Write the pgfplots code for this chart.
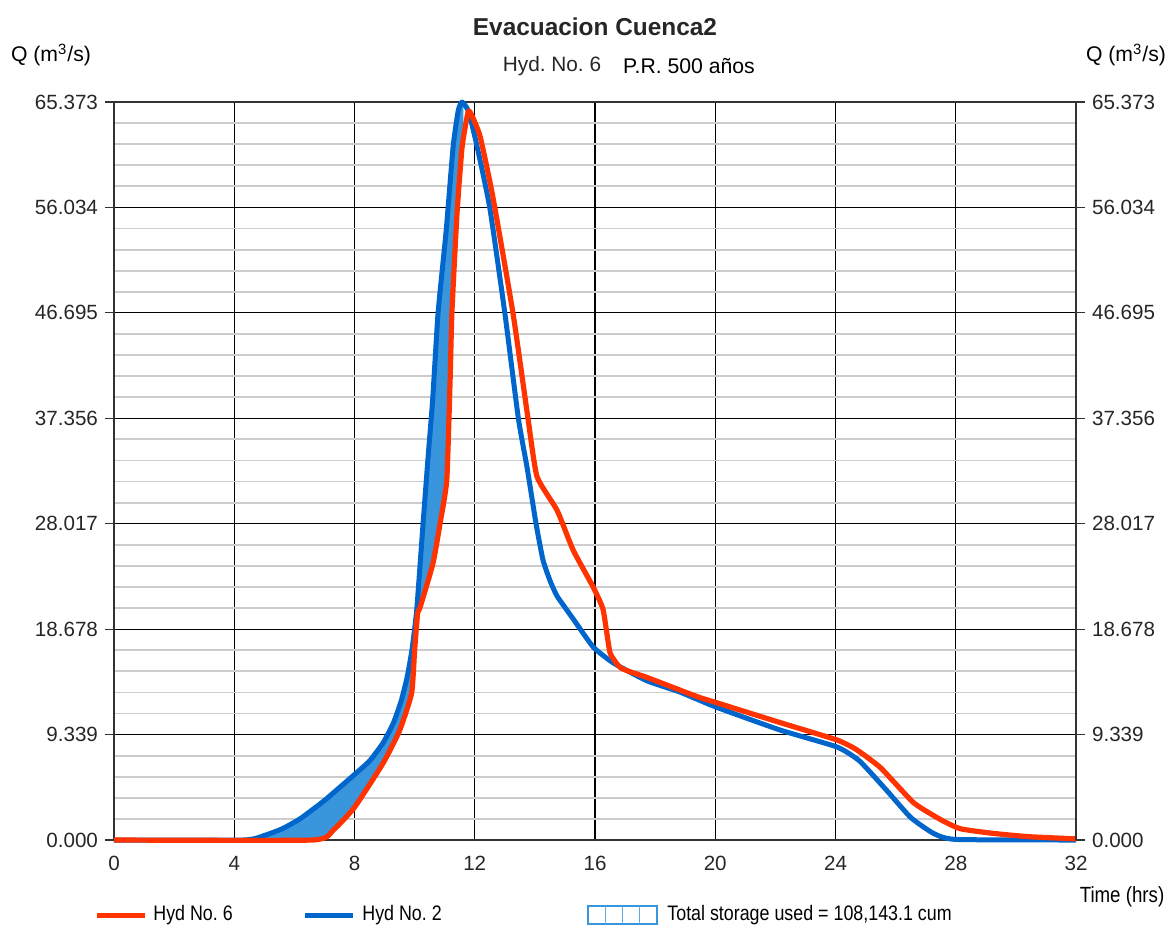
\documentclass[border=0pt]{standalone}
\usepackage{fontspec}
\setmainfont{Liberation Sans}
\newfontfamily\narrowfont{Liberation Sans}[FakeStretch=0.85]
\usepackage{pgfplots}
\usepackage{pgfplotstable}
\pgfplotsset{compat=1.18}
\usepgfplotslibrary{fillbetween}
\frenchspacing

\definecolor{hydred}{RGB}{255,51,0}
\definecolor{hydblue}{RGB}{0,102,204}
\definecolor{storefill}{RGB}{58,150,220}

% Hyd No. 2 (inflow)
\pgfplotstableread{
t q
0 0
4.3 0
5.0 0.4
5.6 1.0
6.2 1.9
7.0 3.5
8.0 5.8
8.5 7.0
8.95 8.6
9.3 10.4
9.55 12.3
9.75 14.4
9.92 17.0
10.07 20.4
10.28 28.0
10.45 34.0
10.6 39.0
10.78 46.7
11.05 54.0
11.28 61.4
11.45 64.6
11.58 65.37
11.8 64.5
12.08 61.4
12.5 56.0
13.0 46.7
13.45 37.36
13.74 33.0
14.04 28.0
14.27 24.8
14.5 23.0
14.74 21.6
15.27 19.6
15.94 17.1
16.6 15.7
17.73 14.1
18.83 13.1
20.0 11.8
22.16 9.74
24.05 8.24
24.8 7.0
25.7 4.4
26.5 2.0
27.25 0.6
28.0 0.05
32.0 0
}\hydtwo

% Hyd No. 6 (outflow)
\pgfplotstableread{
t q
0 0
6.6 0
7.3 0.9
8.0 2.9
8.95 6.8
9.5 9.7
9.9 13.0
10.0 16.8
10.1 20.1
10.18 20.6
10.61 24.5
10.85 28.1
11.07 31.9
11.18 40.7
11.24 46.7
11.41 55.5
11.58 61.4
11.78 64.5
11.9 64.2
12.18 62.3
12.6 57.0
13.27 46.7
13.77 37.36
14.07 32.2
14.74 29.2
15.27 25.7
15.94 22.4
16.27 20.4
16.5 16.6
16.83 15.3
17.17 14.9
17.73 14.4
19.4 12.7
20.0 12.2
22.16 10.4
24.05 8.86
24.7 8.0
25.5 6.4
26.6 3.3
27.5 1.8
28.15 1.0
29.2 0.6
30.4 0.3
32.0 0.1
}\hydsix

\begin{document}
\begin{tikzpicture}
\begin{axis}[
  name=main,
  at={(0,0)}, anchor=south west,
  scale only axis,
  width=481pt, height=369pt,
  xmin=0, xmax=32, ymin=0, ymax=65.373,
  xtick={0,4,...,32},
  ytick={0,9.339,18.678,28.017,37.356,46.695,56.034,65.373},
  yticklabels={0.000,9.339,18.678,28.017,37.356,46.695,56.034,65.373},
  minor y tick num=4,
  xmajorgrids, ymajorgrids, yminorgrids,
  major grid style={black, line width=0.6pt},
  minor grid style={black!20, line width=0.9pt},
  axis line style={black!80, line width=0.8pt},
  tick align=outside,
  ytick pos=left, xtick pos=bottom,
  major tick length=4.5pt, minor tick length=0pt,
  xtick style={draw=none},
  ytick style={black!80, line width=0.6pt},
  ticklabel style={font=\fontsize{10.3}{12}\selectfont, text=black!85},
  /pgf/number format/assume math mode=true,
  clip=false,
]
\addplot[draw=none, smooth, tension=0.3, name path=inflow] table[x=t, y=q] {\hydtwo};
\addplot[draw=none, smooth, tension=0.3, name path=outflow] table[x=t, y=q] {\hydsix};
\addplot[storefill, draw=none] fill between[of=inflow and outflow, soft clip={domain=4.3:11.62}];
\addplot[hydblue, line width=2.5pt, smooth, tension=0.3, line join=round] table[x=t, y=q] {\hydtwo};
\addplot[hydred, line width=2.6pt, smooth, tension=0.3, line join=round] table[x=t, y=q] {\hydsix};
\end{axis}
\begin{axis}[
  at={(0,0)}, anchor=south west,
  scale only axis,
  width=481pt, height=369pt,
  xmin=0, xmax=32, ymin=0, ymax=65.373,
  hide x axis,
  axis y line*=right,
  axis line style={black!80, line width=0.8pt},
  ytick={0,9.339,18.678,28.017,37.356,46.695,56.034,65.373},
  yticklabels={0.000,9.339,18.678,28.017,37.356,46.695,56.034,65.373},
  tick align=outside,
  major tick length=4.5pt,
  ytick style={black!80, line width=0.6pt},
  ticklabel style={font=\fontsize{10.3}{12}\selectfont, text=black!85},
  /pgf/number format/assume math mode=true,
]
\addplot[draw=none] coordinates {(0,0)};
\end{axis}

% titles and axis names
\node[font=\bfseries\fontsize{12.2}{14}\selectfont, text=black!85] at ([shift={(240.5pt,406.5pt)}]main.south west) {Evacuacion Cuenca2};
\node[font=\fontsize{10.4}{12}\selectfont, text=black!85] at ([shift={(219pt,387pt)}]main.south west) {Hyd. No. 6};
\node[font=\fontsize{10.6}{12}\selectfont] at ([shift={(287.5pt,387pt)}]main.south west) {P.R. 500 años};
\node[font=\fontsize{10.6}{12}\selectfont] at ([shift={(-31.5pt,392.5pt)}]main.south west) {Q (m\textsuperscript{3}/s)};
\node[font=\fontsize{10.6}{12}\selectfont] at ([shift={(506pt,392.5pt)}]main.south west) {Q (m\textsuperscript{3}/s)};
\node[font=\narrowfont\fontsize{11}{12}\selectfont] at ([shift={(504pt,-28.5pt)}]main.south west) {Time (hrs)};

% legend
\draw[hydred, line width=2.5pt] ([shift={(-8.5pt,-37.5pt)}]main.south west) -- ++(24pt,0);
\node[anchor=west, inner sep=0pt, font=\narrowfont\fontsize{10.5}{12}\selectfont] at ([shift={(19.5pt,-37.5pt)}]main.south west) {Hyd No. 6};
\draw[hydblue, line width=2.5pt] ([shift={(95.5pt,-37.5pt)}]main.south west) -- ++(24pt,0);
\node[anchor=west, inner sep=0pt, font=\narrowfont\fontsize{10.5}{12}\selectfont] at ([shift={(124pt,-37.5pt)}]main.south west) {Hyd No. 2};
\draw[storefill, line width=0.8pt, fill=white] ([shift={(237pt,-33pt)}]main.south west) rectangle ++(34.5pt,-9pt);
\foreach \k in {1,2,3} {
  \draw[storefill!80, line width=0.6pt] ([shift={(237pt+\k*8.625pt,-33pt)}]main.south west) -- ++(0,-9pt);
}
\node[anchor=west, inner sep=0pt, font=\narrowfont\fontsize{10.5}{12}\selectfont] at ([shift={(276.5pt,-37.5pt)}]main.south west) {Total storage used = 108,143.1 cum};

\pgfresetboundingbox
\path[use as bounding box] ([shift={(-57pt,-44pt)}]main.south west) rectangle ([shift={(48pt,51pt)}]main.north east);
\end{tikzpicture}
\end{document}
